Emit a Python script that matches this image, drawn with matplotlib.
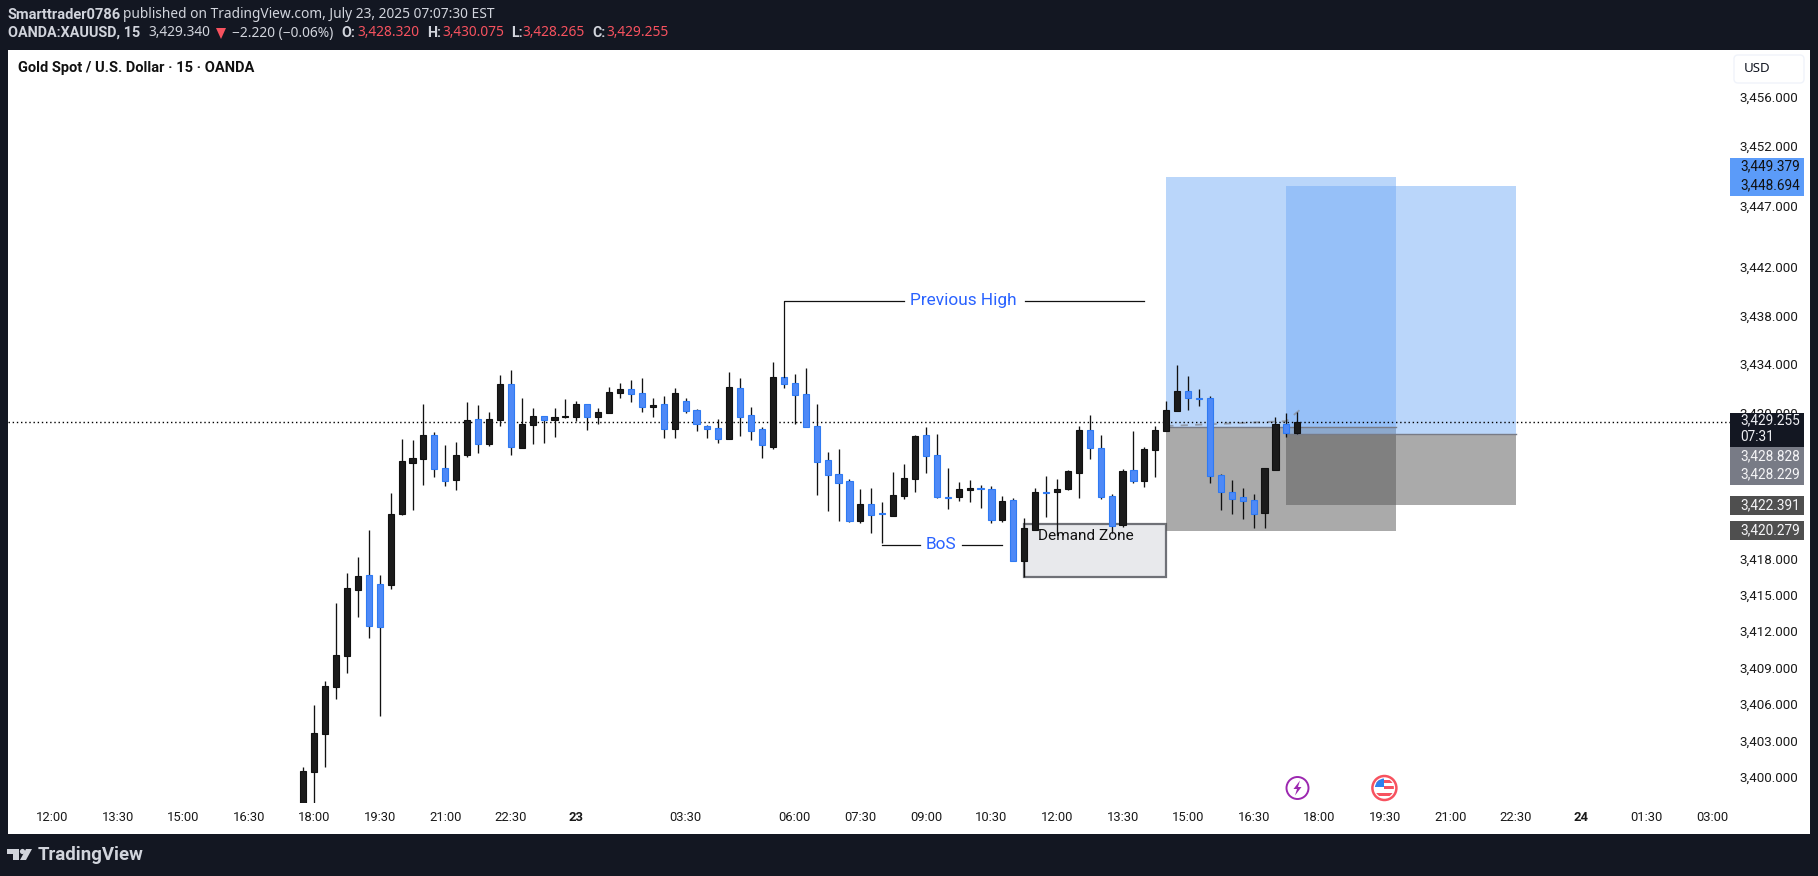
import matplotlib
matplotlib.use('Agg')
import matplotlib.pyplot as plt
from matplotlib.patches import Rectangle, Circle, FancyBboxPatch, Polygon
from matplotlib.transforms import Affine2D

plt.rcParams['font.family'] = ['Roboto', 'DejaVu Sans']

# candles, first one is 17:45, one bar per 15 min
opens = [3397.0, 3400.43, 3403.56, 3407.43, 3409.98, 3415.42, 3416.60, 3415.86, 3415.83, 3421.68,
         3425.88, 3426.21, 3428.13, 3425.41, 3424.48, 3426.54, 3429.45, 3427.44, 3429.39, 3432.33,
         3427.11, 3429.01, 3429.70, 3429.42, 3429.64, 3429.67, 3430.68, 3429.67, 3430.00, 3431.65,
         3431.92, 3431.59, 3430.49, 3430.68, 3428.68, 3430.93, 3430.19, 3428.87, 3428.71, 3427.86,
         3432.00, 3429.78, 3428.63, 3427.20, 3432.91, 3432.41, 3431.51, 3428.87, 3426.07, 3424.92,
         3424.34, 3421.10, 3422.45, 3421.71, 3421.51, 3423.16, 3424.56, 3428.13, 3426.48, 3423.04,
         3423.08, 3423.63, 3423.78, 3423.68, 3421.18, 3422.78, 3417.81, 3420.36, 3423.46, 3423.49,
         3423.74, 3425.05, 3428.54, 3427.06, 3423.10, 3420.77, 3425.25, 3424.40, 3426.95, 3428.51,
         3430.16, 3431.75, 3431.20, 3431.18, 3424.83, 3423.43, 3423.02, 3422.77, 3421.76, 3425.30,
         3429.03, 3428.32]
highs = [3400.78, 3405.92, 3407.90, 3414.32, 3416.76, 3418.08, 3420.33, 3416.60, 3423.35, 3427.80,
         3427.75, 3430.71, 3428.38, 3427.31, 3427.55, 3430.85, 3430.60, 3430.03, 3433.10, 3433.51,
         3431.18, 3430.35, 3429.72, 3430.35, 3431.10, 3430.93, 3430.68, 3430.35, 3432.08, 3432.41,
         3432.66, 3432.83, 3431.18, 3431.34, 3432.00, 3431.18, 3430.27, 3428.95, 3429.45, 3433.32,
         3432.83, 3430.44, 3428.79, 3434.14, 3432.91, 3433.18, 3433.65, 3430.68, 3426.73, 3426.98,
         3424.51, 3423.68, 3423.76, 3422.61, 3425.08, 3425.74, 3428.16, 3428.79, 3428.21, 3425.41,
         3424.26, 3424.42, 3424.04, 3423.93, 3423.10, 3422.94, 3421.29, 3423.76, 3424.78, 3424.51,
         3425.27, 3428.87, 3429.80, 3428.16, 3423.30, 3425.33, 3428.49, 3427.17, 3428.87, 3430.96,
         3433.92, 3433.01, 3431.94, 3431.37, 3424.94, 3424.45, 3423.76, 3423.29, 3425.41, 3429.61,
         3429.94, 3430.075]
lows = [3396.8, 3397.5, 3400.84, 3406.41, 3408.58, 3413.19, 3411.46, 3405.04, 3415.50, 3421.57,
        3421.98, 3424.04, 3424.73, 3423.98, 3423.63, 3426.37, 3426.70, 3427.28, 3428.93, 3426.51,
        3427.11, 3427.44, 3427.53, 3428.00, 3429.59, 3429.31, 3428.60, 3429.09, 3430.00, 3431.23,
        3430.90, 3430.05, 3429.67, 3427.94, 3427.94, 3430.00, 3428.52, 3427.94, 3427.53, 3427.86,
        3428.10, 3427.77, 3426.29, 3427.03, 3432.06, 3429.09, 3428.84, 3423.22, 3421.90, 3421.07,
        3421.02, 3420.94, 3420.11, 3419.29, 3421.51, 3422.91, 3423.46, 3425.05, 3422.99, 3422.09,
        3422.75, 3422.67, 3422.17, 3420.94, 3421.02, 3417.81, 3416.49, 3420.36, 3421.43, 3419.92,
        3423.63, 3422.99, 3426.18, 3422.91, 3420.06, 3420.61, 3424.20, 3423.87, 3424.70, 3428.45,
        3430.16, 3430.24, 3430.57, 3424.23, 3421.98, 3421.67, 3421.24, 3420.49, 3420.49, 3425.30,
        3427.99, 3428.265]
closes = [3400.48, 3403.58, 3407.48, 3410.04, 3415.53, 3416.52, 3412.45, 3412.37, 3421.62, 3425.99,
          3426.24, 3428.13, 3425.39, 3424.40, 3426.48, 3429.37, 3427.44, 3429.45, 3432.33, 3427.20,
          3429.04, 3429.70, 3429.42, 3429.61, 3429.70, 3430.68, 3429.67, 3430.03, 3431.67, 3431.92,
          3431.56, 3430.49, 3430.63, 3428.68, 3431.59, 3430.16, 3429.09, 3428.68, 3427.86, 3432.08,
          3429.67, 3428.52, 3427.36, 3432.91, 3432.39, 3431.48, 3428.84, 3425.96, 3424.89, 3424.23,
          3421.10, 3422.45, 3421.60, 3421.66, 3423.19, 3424.59, 3428.05, 3426.45, 3423.08, 3422.99,
          3423.68, 3423.76, 3423.74, 3421.18, 3422.69, 3417.81, 3420.47, 3423.43, 3423.41, 3423.71,
          3425.19, 3428.54, 3427.11, 3423.08, 3420.69, 3425.16, 3424.40, 3426.98, 3428.54, 3430.19,
          3431.75, 3431.23, 3431.15, 3424.80, 3423.49, 3422.91, 3422.75, 3421.67, 3425.41, 3429.03,
          3428.35, 3429.255]

last_price = 3429.255

# long position tools: start, end, target, entry, stop
pos_a = (79, 100, 3449.379, 3428.828, 3420.279)
pos_b = (90, 111, 3448.694, 3428.229, 3422.391)
demand_zone = (66, 79, 3416.49, 3420.83)

x_ticks = [-23, -17, -11, -5, 1, 7, 13, 19, 25, 35, 45, 51, 57, 63, 69, 75, 81, 87, 93, 99, 105, 111, 117, 123, 129]
x_labels = ['12:00', '13:30', '15:00', '16:30', '18:00', '19:30', '21:00', '22:30', '23', '03:30', '06:00', '07:30',
            '09:00', '10:30', '12:00', '13:30', '15:00', '16:30', '18:00', '19:30', '21:00', '22:30', '24', '01:30',
            '03:00']
y_ticks = [3456, 3452, 3447, 3442, 3438, 3434, 3430, 3418, 3415, 3412, 3409, 3406, 3403, 3400]

BG = '#131722'
BLUE = '#4E89F7'
BLUE_EDGE = '#2F7AF2'
BLACK = '#1B1B1B'
RED = '#F7525F'
LIGHT = '#D1D4DC'
TV_BLUE = '#2962FF'
UI_FONT = ['Noto Sans', 'DejaVu Sans']

W, H = 1818, 876
fig = plt.figure(figsize=(W / 100, H / 100), dpi=100, facecolor=BG)
# everything around the chart is placed in screen pixels, y down
px = Affine2D().scale(1 / W, -1 / H).translate(0, 1) + fig.transFigure

fig.add_artist(Rectangle((8, 50), 1802, 784, fc='white', ec='none', transform=px, zorder=-2))

ax = fig.add_axes([8 / W, 1 - 803 / H, 1722 / W, 753 / H])
ax.patch.set_visible(False)
for s in ax.spines.values():
    s.set_visible(False)
ax.set_xlim(-27.03, 130.61)
ax.set_ylim(3397.85, 3459.87)

ax.set_xticks(x_ticks, x_labels)
ax.yaxis.tick_right()
ax.set_yticks(y_ticks, ['{:,.3f}'.format(t) for t in y_ticks])
ax.tick_params(axis='x', length=0, pad=6, labelsize=9.4, labelcolor='#1a1a1a')
ax.tick_params(axis='y', length=0, pad=6.5, labelsize=9.6, labelcolor='#1a1a1a')
for lab in ax.get_xticklabels():
    if lab.get_text() in ('23', '24'):
        lab.set_fontweight('bold')

# position tools
for start, end, target, entry, stop in (pos_a, pos_b):
    ax.add_patch(Rectangle((start, entry), end - start, target - entry, fc=(110 / 255, 168 / 255, 246 / 255, 0.47),
                           ec='none', zorder=2))
    ax.add_patch(Rectangle((start, stop), end - start, entry - stop, fc=(87 / 255, 87 / 255, 87 / 255, 0.5),
                           ec='none', zorder=2))
    ax.plot([start, end], [entry, entry], color='#787B86', lw=1.0, zorder=2.1)

# faint dashed path of the position tool
ax.plot([79, 90, 91.2], [3428.9, 3429.3, 3430.2], color='#8a8f9a', lw=1.3, ls=(0, (4, 4)), alpha=0.8, zorder=2.2)

# demand zone
z_start, z_end, z_low, z_high = demand_zone
ax.add_patch(Rectangle((z_start, z_low), z_end - z_start, z_high - z_low, fc='#E8E9EC', ec='#6F7177', lw=1.6, zorder=1.5))
ax.text((z_start + z_end) / 2 - 0.85, 3419.85, 'Demand Zone', ha='center', va='center', fontsize=11.1, color='#111111', zorder=4)

ax.axhline(last_price, color='black', lw=1, ls=(0, (1, 2)), zorder=2.5)

# candles
xs = list(range(len(opens)))
colors = [BLACK if c >= o else BLUE for o, c in zip(opens, closes)]
edges = ['#111111' if c >= o else BLUE_EDGE for o, c in zip(opens, closes)]
ax.vlines(xs, lows, highs, colors='#111111', lw=0.95, zorder=3)
ax.bar(xs, [c - o for o, c in zip(opens, closes)], bottom=opens, width=0.56, color=colors, edgecolor=edges, lw=0.8,
       zorder=3.1)

# callouts
ax.plot([44, 44, 55], [3432.9, 3439.2, 3439.2], color='#111111', lw=0.9, zorder=3.2)
ax.plot([66.07, 76.96], [3439.2, 3439.2], color='#111111', lw=0.9, zorder=3.2)
ax.text(60.4, 3439.2, 'Previous High', ha='center', va='center', fontsize=12.4, color=TV_BLUE, zorder=4)
ax.plot([53, 56.45], [3419.1, 3419.1], color='#111111', lw=0.9, zorder=3.2)
ax.plot([60.3, 64], [3419.1, 3419.1], color='#111111', lw=0.9, zorder=3.2)
ax.text(58.4, 3419.1, 'BoS', ha='center', va='center', fontsize=12.4, color=TV_BLUE, zorder=4)

# title inside chart
fig.text(18, 68, 'Gold Spot / U.S. Dollar · 15 · OANDA', transform=px, fontsize=10.5, fontweight='bold', color='#111111',
         va='center')

# header lines
fig.text(8, 15, 'Smarttrader0786', transform=px, fontsize=10.5, fontweight='bold', color=LIGHT, va='center')
fig.text(123, 15, 'published on TradingView.com, July 23, 2025 07:07:30 EST', transform=px, fontsize=9.9, color=LIGHT,
         va='center', family=UI_FONT)
fig.text(8, 33, 'OANDA:XAUUSD, 15', transform=px, fontsize=10.4, fontweight='bold', color=LIGHT, va='center')
fig.text(148, 33, '3,429.340', transform=px, fontsize=9.9, color=LIGHT, va='center', family=UI_FONT)
fig.add_artist(Polygon([(216, 28), (226, 28), (221, 39)], fc=RED, ec='none', transform=px))
fig.text(232, 33, '−2.220 (−0.06%)', transform=px, fontsize=9.9, color=LIGHT, va='center', family=UI_FONT)
for lab_x, val_x, lab, val in ((341, 357, 'O:', '3,428.320'), (427, 442, 'H:', '3,430.075'),
                               (511, 522, 'L:', '3,428.265'), (592, 606, 'C:', '3,429.255')):
    fig.text(lab_x, 33, lab, transform=px, fontsize=10.2, fontweight='bold', color=LIGHT, va='center')
    fig.text(val_x, 33, val, transform=px, fontsize=9.9, color=RED, va='center', family=UI_FONT)

# USD button
fig.add_artist(FancyBboxPatch((1736, 57), 66, 24, boxstyle='round,pad=2,rounding_size=4', fc='white', ec='#F0F3FA', lw=1,
                              transform=px))
fig.text(1744, 69, 'USD', transform=px, fontsize=9.6, color='#131722', va='center', family=UI_FONT)


# price scale labels, one box can hold two lines
def price_box(top, bottom, color, lines, text_color):
    fig.add_artist(Rectangle((1730, top), 74, bottom - top, fc=color, ec='none', transform=px, zorder=5))
    for y, s in lines:
        fig.text(1740, y, s, transform=px, fontsize=9.8, color=text_color, va='center', zorder=6)


price_box(158, 195.7, '#5B9BF9', [(166.7, '3,449.379'), (185.7, '3,448.694')], '#111111')
price_box(412.7, 446.7, BG, [(420.7, '3,429.255'), (436.7, '07:31')], '#EDEEF2')
price_box(446.7, 485, '#787B86', [(456, '3,428.828'), (474, '3,428.229')], '#F5F5F7')
price_box(496, 515, '#4F4F4F', [(505, '3,422.391')], '#F5F5F7')
price_box(521, 540, '#4F4F4F', [(530, '3,420.279')], '#F5F5F7')

# event markers
fig.add_artist(Circle((1297.5, 788), 11, fc='white', ec='#9C27B0', lw=1.4, transform=px, zorder=5))
fig.add_artist(Polygon([(1300, 780.5), (1293.5, 789), (1297, 789), (1295, 795.5), (1301.5, 787), (1298, 787)],
                       fc='#9C27B0', ec='none', transform=px, zorder=5.1))
fig.add_artist(Circle((1384.4, 788), 12, fc='white', ec='#F7525F', lw=1.8, transform=px, zorder=5))
flag_clip = Circle((1384.4, 788), 9.5, transform=px)
for x0, y0, w, h, c in ((1374, 780, 21, 3, RED), (1384, 786, 11, 3, RED), (1374, 792.5, 21, 3, RED),
                        (1374, 778, 10, 9, '#2F80ED')):
    bar = Rectangle((x0, y0), w, h, fc=c, ec='none', transform=px, zorder=5.1)
    fig.add_artist(bar)
    bar.set_clip_path(flag_clip)

# TradingView mark and wordmark
fig.add_artist(Polygon([(7, 849), (19, 849), (19, 860), (13, 860), (13, 854), (7, 854)], fc=LIGHT, ec='none', transform=px))
fig.add_artist(Circle((22.5, 851.5), 2.6, fc=LIGHT, ec='none', transform=px))
fig.add_artist(Polygon([(26, 849), (32, 849), (26, 860), (20, 860)], fc=LIGHT, ec='none', transform=px))
fig.text(38, 855, 'TradingView', transform=px, fontsize=13.4, fontweight='semibold', color=LIGHT, va='center')

fig.savefig('out.png', dpi=100, facecolor=BG)
